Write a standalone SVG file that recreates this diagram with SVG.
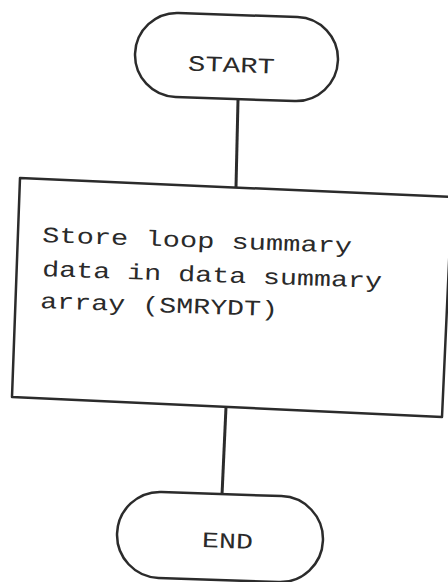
<svg xmlns="http://www.w3.org/2000/svg" width="448" height="582" viewBox="0 0 448 582">
<style>
.shape{fill:#fff;stroke:#2b2b2b;stroke-width:2.5;stroke-linejoin:round}
.conn{stroke:#2b2b2b;stroke-width:3;fill:none}
text{font-family:"Courier New","Liberation Mono",monospace;fill:#2a2a2a;font-size:22px}
</style>
<rect width="448" height="582" fill="#fff"/>
<g id="connectors">
<line class="conn" x1="238" y1="100" x2="236" y2="187"/>
<line class="conn" x1="226" y1="407" x2="222" y2="495"/>
</g>
<g id="start">
<rect class="shape" x="135" y="15" width="203" height="84" rx="42" transform="rotate(2 236.5 57)"/>
<text x="188" y="72" textLength="87" lengthAdjust="spacingAndGlyphs" transform="rotate(2 231 65)">START</text>
</g>
<g id="store">
<polygon class="shape" points="20,178 452,197 442,417 12,397"/>
<text x="42" y="242" textLength="310" lengthAdjust="spacingAndGlyphs" transform="rotate(2 42 242)">Store loop summary</text>
<text x="42" y="276" textLength="340" lengthAdjust="spacingAndGlyphs" transform="rotate(2 42 276)">data in data summary</text>
<text x="40" y="308" textLength="238" lengthAdjust="spacingAndGlyphs" transform="rotate(2 40 308)">array (SMRYDT)</text>
</g>
<g id="end">
<rect class="shape" x="117" y="494" width="206" height="86" rx="43" transform="rotate(2 220 537)"/>
<text x="202" y="548" textLength="51" lengthAdjust="spacingAndGlyphs" transform="rotate(2 227 542)">END</text>
</g>
</svg>
